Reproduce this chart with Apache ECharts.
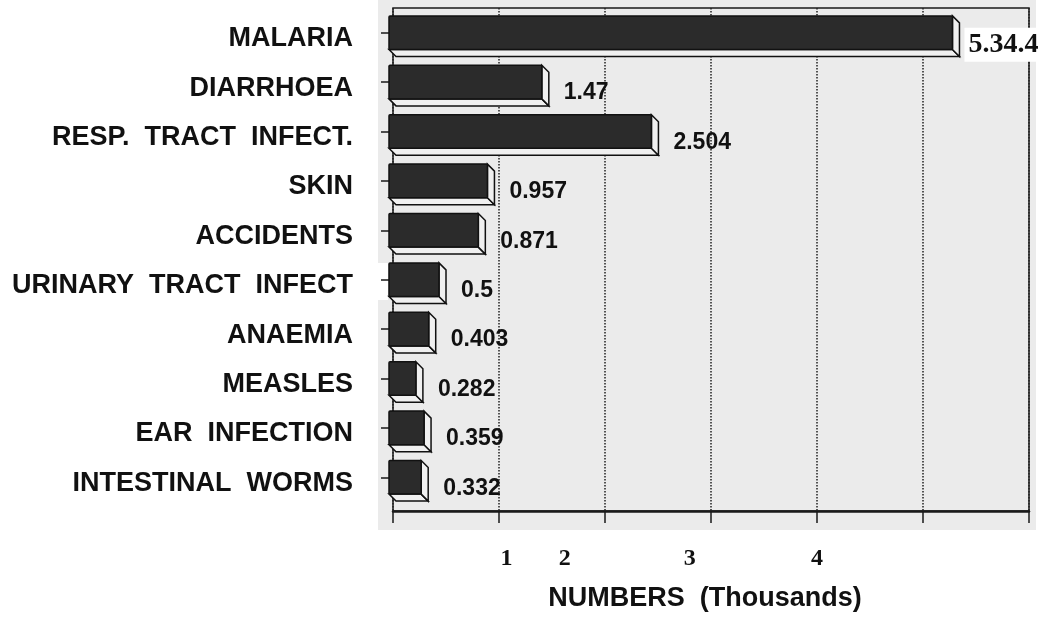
<!DOCTYPE html>
<html>
<head>
<meta charset="utf-8">
<title>Diseases - numbers (thousands)</title>
<script src="https://cdn.jsdelivr.net/npm/echarts@6/dist/echarts.min.js"></script>
<style>
  html, body { margin: 0; padding: 0; background: #fff; }
  #chart { width: 1042px; height: 618px; }
</style>
</head>
<body>
<div id="chart"></div>
<script>
// data
const categories = [
  'MALARIA', 'DIARRHOEA', 'RESP.  TRACT  INFECT.', 'SKIN', 'ACCIDENTS',
  'URINARY  TRACT  INFECT', 'ANAEMIA', 'MEASLES', 'EAR  INFECTION', 'INTESTINAL  WORMS'
];
const cases = [5.344, 1.47, 2.504, 0.957, 0.871, 0.5, 0.403, 0.282, 0.359, 0.332];
const caseLabels = ['5.34.4', '1.47', '2.504', '0.957', '0.871', '0.5', '0.403', '0.282', '0.359', '0.332'];
// the printed tick numbers sit off the grid lines in the original
const tickValues = [1.07, 1.62, 2.8, 4.0];
const tickLabels = ['1', '2', '3', '4'];

const chart = echarts.init(document.getElementById('chart'), null, { renderer: 'canvas' });

// 3d-ish bar: dark front face, light bottom and end faces
function renderBar(params, api) {
  const idx = api.value(1);
  const start = api.coord([0, idx]);
  const end = api.coord([api.value(0), idx]);
  const band = api.size([0, 1])[1];
  const h = band * 0.68;
  const d = 7;
  const x0 = start[0] - 4;
  const y0 = start[1] - h / 2;
  const x1 = end[0] - d;
  const edge = { stroke: '#111', lineWidth: 1.5, fill: '#f0f0f0' };
  const pasted = idx === 0; // malaria value was pasted in with a serif font
  return {
    type: 'group',
    children: [
      { type: 'polygon', shape: { points: [[x0, y0 + h], [x1, y0 + h], [x1 + d, y0 + h + d], [x0 + d, y0 + h + d]] }, style: edge },
      { type: 'polygon', shape: { points: [[x1, y0], [x1 + d, y0 + d], [x1 + d, y0 + h + d], [x1, y0 + h]] }, style: edge },
      { type: 'rect', shape: { x: x0, y: y0, width: x1 - x0, height: h, r: 1 }, style: { fill: '#2b2b2b', stroke: '#111', lineWidth: 1.5 } },
      {
        type: 'text',
        style: {
          text: caseLabels[idx],
          x: end[0] + (pasted ? 5 : 15),
          y: start[1] + (pasted ? 12 : 11),
          verticalAlign: 'middle',
          fill: '#111',
          font: pasted ? 'bold 28px "Liberation Serif"' : 'bold 23px "Liberation Sans"',
          backgroundColor: pasted ? '#fff' : null,
          padding: pasted ? [3, 4, 3, 4] : 0
        }
      }
    ]
  };
}

function tickText(v) {
  let k = 0;
  tickValues.forEach((t, i) => { if (Math.abs(t - v) < Math.abs(tickValues[k] - v)) k = i; });
  return '{n|' + tickLabels[k] + '}';
}

const option = {
  animation: false,
  graphic: [
    { type: 'rect', z: -100, silent: true, shape: { x: 378, y: 0, width: 658, height: 530 }, style: { fill: '#ebebeb' } },
    // white paste-over behind the urinary label in the scan
    { type: 'rect', z: -99, silent: true, shape: { x: 378, y: 263, width: 10, height: 37 }, style: { fill: '#fff' } }
  ],
  grid: [
    { left: 393, top: 8, width: 636, height: 494 },
    { left: 393, top: 8, width: 636, height: 503, show: true, borderColor: '#1a1a1a', borderWidth: 1.5 }
  ],
  xAxis: [
    { gridIndex: 0, type: 'value', min: 0, max: 6, interval: 1, show: false },
    {
      gridIndex: 1, type: 'value', min: 0, max: 6, interval: 1,
      name: 'NUMBERS  (Thousands)', nameLocation: 'middle', nameGap: 74,
      nameTextStyle: { fontFamily: 'Liberation Sans', fontWeight: 'bold', fontSize: 27, color: '#111', padding: [0, 12, 0, 0] },
      axisLine: { show: true, lineStyle: { color: '#1a1a1a', width: 2.5 } },
      axisTick: { show: true, length: 12, lineStyle: { color: '#1a1a1a', width: 1.5 } },
      axisLabel: {
        customValues: tickValues,
        margin: 36,
        formatter: tickText,
        rich: {
          n: { fontFamily: 'Liberation Serif', fontWeight: 'bold', fontSize: 24, color: '#111' }
        }
      },
      splitLine: { show: true, lineStyle: { color: '#222', type: 'dotted', width: 1.5 } }
    }
  ],
  yAxis: [
    {
      gridIndex: 0, type: 'category', data: categories, inverse: true,
      axisLine: { show: false },
      axisTick: { show: true, alignWithLabel: true, length: 12, lineStyle: { color: '#1a1a1a', width: 1.5 } },
      axisLabel: {
        margin: 40, verticalAlign: 'top', lineHeight: 12,
        fontFamily: 'Liberation Sans', fontWeight: 'bold', fontSize: 27, color: '#111'
      }
    },
    { gridIndex: 1, type: 'value', show: false, min: 0, max: 1 }
  ],
  series: [{
    type: 'custom',
    xAxisIndex: 0,
    yAxisIndex: 0,
    clip: false,
    renderItem: renderBar,
    encode: { x: 0, y: 1 },
    data: cases.map((v, i) => [v, i])
  }]
};

chart.setOption(option);
window.addEventListener('resize', () => chart.resize());
</script>
</body>
</html>
